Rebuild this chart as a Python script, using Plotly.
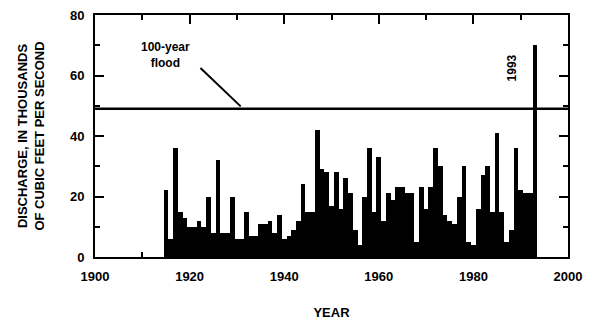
import plotly.graph_objects as go

years = list(range(1915, 1994))
discharge = [
    22, 6, 36, 15, 13, 10, 10, 12, 10, 20,
    8, 32, 8, 8, 20, 6, 6, 15, 7, 7,
    11, 11, 12, 8, 14, 6, 7, 9, 12, 24,
    15, 15, 42, 29, 28, 17, 28, 16, 26, 21,
    9, 4, 20, 36, 15, 33, 12, 21, 19, 23,
    23, 21, 21, 5, 23, 16, 23, 36, 30, 14,
    12, 11, 20, 30, 5, 4, 16, 27, 30, 15,
    41, 15, 5, 9, 36, 22, 21, 21, 70,
]
flood_100yr = 49
x_ticks = [1900, 1920, 1940, 1960, 1980, 2000]
y_ticks = [0, 20, 40, 60, 80]

FONT = "Liberation Sans"

fig = go.Figure()
fig.add_trace(go.Bar(x=years, y=discharge, width=1.0,
                     marker=dict(color="black", line=dict(width=0))))

fig.add_shape(type="line", xref="x", yref="y", x0=1900, x1=2000,
              y0=flood_100yr, y1=flood_100yr, line=dict(color="black", width=2.5))
fig.add_shape(type="line", xref="x", yref="y", x0=1922.3, y0=62.5,
              x1=1930.8, y1=flood_100yr + 0.8, line=dict(color="black", width=2))

fig.add_annotation(x=1914.8, y=66.7, xref="x", yref="y", text="100-year<br>flood",
                   showarrow=False, font=dict(family=FONT, size=12, color="black", weight="bold"))
fig.add_annotation(x=1988.2, y=62.4, xref="x", yref="y", text="1993", textangle=-90,
                   showarrow=False, font=dict(family=FONT, size=12, color="black", weight="bold"))

axis_common = dict(showline=True, linecolor="black", linewidth=2, mirror="ticks",
                   ticks="inside", ticklen=9, tickwidth=2, tickcolor="black",
                   showgrid=False, zeroline=False, automargin=False,
                   ticklabeloverflow="allow",
                   tickfont=dict(family=FONT, size=13, color="black", weight="bold"))

fig.update_xaxes(range=[1900, 2000], tickvals=x_ticks, ticklabelstandoff=6,
                 minor=dict(dtick=10, ticks="inside", ticklen=5, tickwidth=1.5, tickcolor="black"),
                 title=dict(text="YEAR", standoff=25,
                            font=dict(family=FONT, size=13, color="black", weight="bold")),
                 **axis_common)
fig.update_yaxes(range=[0, 80], tickvals=y_ticks, ticklabelstandoff=6,
                 minor=dict(dtick=10, ticks="inside", ticklen=5, tickwidth=1.5, tickcolor="black"),
                 title=dict(text="DISCHARGE, IN THOUSANDS<br>OF CUBIC FEET PER SECOND", standoff=22,
                            font=dict(family=FONT, size=13, color="black", weight="bold")),
                 **axis_common)

fig.update_layout(width=592, height=327, margin=dict(l=87, r=32, t=7, b=78),
                  paper_bgcolor="white", plot_bgcolor="white", bargap=0,
                  showlegend=False)

fig.write_html("out.html")
